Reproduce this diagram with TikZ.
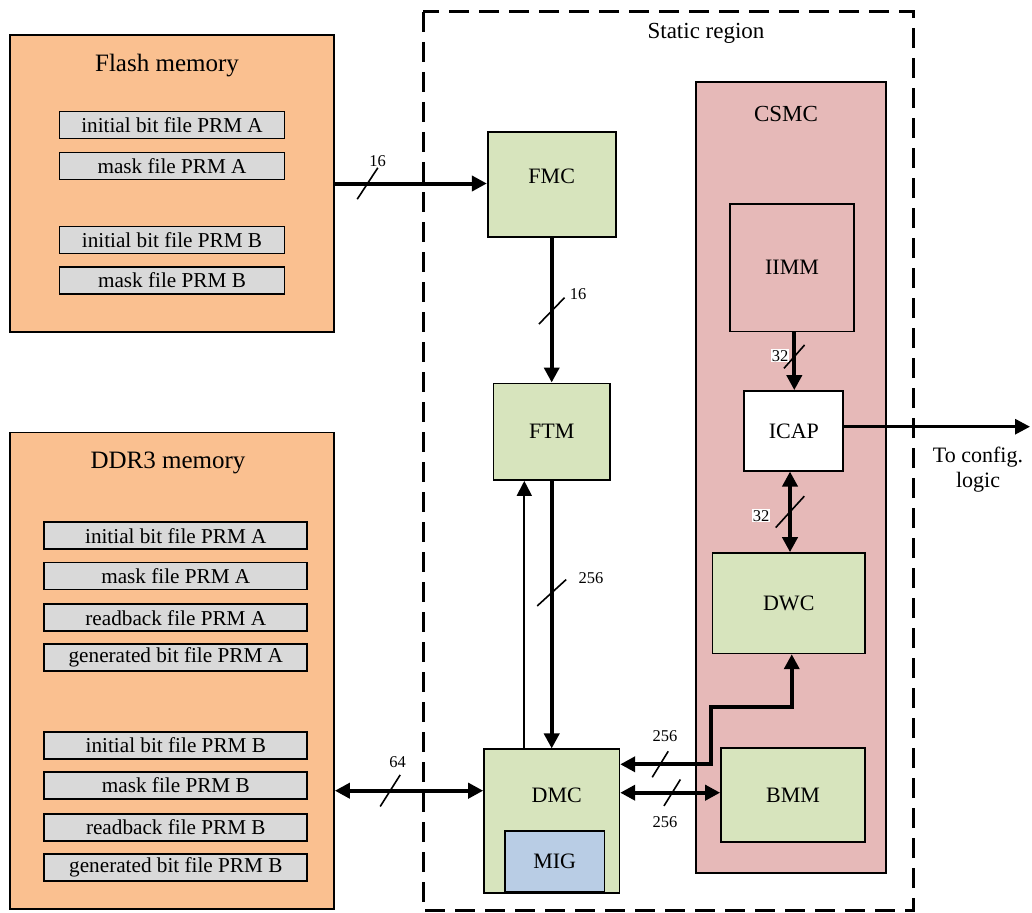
\documentclass[tikz,border=0pt]{standalone}
\usepackage{fontspec}
\setmainfont{Liberation Serif}
\usetikzlibrary{arrows.meta,calc}

\definecolor{memfill}{HTML}{FAC090}
\definecolor{filefill}{HTML}{D9D9D9}
\definecolor{blkfill}{HTML}{D7E4BD}
\definecolor{csmcfill}{HTML}{E6B9B8}
\definecolor{migfill}{HTML}{B9CDE5}

\tikzset{
  box/.style={draw=black, line width=1.7pt, inner sep=0pt, anchor=center},
  mem/.style={box, fill=memfill, minimum width=324pt},
  memtitle/.style={inner sep=0pt, font=\fontsize{25}{29}\selectfont},
  filebox/.style={box, fill=filefill, minimum height=27pt, font=\fontsize{21.2}{24}\selectfont},
  blk/.style={box, fill=blkfill, font=\fontsize{22}{26}\selectfont},
  txt/.style={inner sep=0pt, font=\fontsize{22}{26}\selectfont},
  bus/.style={line width=4pt},
  thin bus/.style={line width=1.8pt},
  tick/.style={line width=1.6pt},
  buslbl/.style={inner sep=1pt, font=\fontsize{16.5}{19}\selectfont},
  whitelbl/.style={buslbl, fill=white},
  region/.style={line width=3pt, dash pattern=on 20pt off 10pt},
  >={Triangle[length=15pt,width=15pt]}
}

% bus width mark: centre, half width, half height
\newcommand\busmark[3]{\draw[tick] ($(#1)+(-#2,#3)$) -- ($(#1)+(#2,-#3)$);}

\begin{document}
\begin{tikzpicture}[x=1pt,y=-1pt]
\useasboundingbox (0,0) rectangle (1032,912);

% ---------- Flash memory ----------
\node[mem, minimum height=297pt] (flash) at (172,183.5) {};
\node[memtitle] (flashttl) at (167,66) {Flash memory};
\node[filebox, minimum width=225pt] (fa1) at (172,125) {initial bit file PRM A};
\node[filebox, minimum width=225pt] (fa2) at (172,166) {mask file PRM A};
\node[filebox, minimum width=225pt] (fb1) at (172,240) {initial bit file PRM B};
\node[filebox, minimum width=225pt] (fb2) at (172,280.5) {mask file PRM B};

% ---------- DDR3 memory ----------
\node[mem, minimum height=476.5pt] (ddr) at (172,670.75) {};
\node[memtitle] (ddrttl) at (168,463) {DDR3 memory};
\node[filebox, minimum width=263pt] (da1) at (175.8,535.7) {initial bit file PRM A};
\node[filebox, minimum width=263pt] (da2) at (175.8,576) {mask file PRM A};
\node[filebox, minimum width=263pt] (da3) at (175.8,617.7) {readback file PRM A};
\node[filebox, minimum width=263pt] (da4) at (175.8,657.8) {generated bit file PRM A};
\node[filebox, minimum width=263pt] (db1) at (175.8,745.3) {initial bit file PRM B};
\node[filebox, minimum width=263pt] (db2) at (175.8,785.2) {mask file PRM B};
\node[filebox, minimum width=263pt] (db3) at (175.8,827.2) {readback file PRM B};
\node[filebox, minimum width=263pt] (db4) at (175.8,867.2) {generated bit file PRM B};

% ---------- Static region ----------
\draw[region] (423,12) rectangle (913,910);
\node[txt, font=\fontsize{23}{27}\selectfont] (statlbl) at (706,33) {Static region};

% ---------- CSMC ----------
\node[box, fill=csmcfill, minimum width=190pt, minimum height=791pt] (csmc) at (791,477.5) {};
\node[txt, font=\fontsize{23}{27}\selectfont] (csmclbl) at (786,114) {CSMC};
\node[box, fill=csmcfill, minimum width=124pt, minimum height=127.5pt, font=\fontsize{22}{26}\selectfont] (iimm) at (792,267.75) {IIMM};
\node[box, fill=white, minimum width=99pt, minimum height=79.7pt, font=\fontsize{22}{26}\selectfont] (icap) at (793.8,430.85) {ICAP};
\node[blk, minimum width=152.5pt, minimum height=100.3pt] (dwc) at (788.75,603.2) {DWC};
\node[blk, minimum width=144pt, minimum height=94pt] (bmm) at (793,795.2) {BMM};

% ---------- Static blocks ----------
\node[blk, minimum width=128pt, minimum height=105pt] (fmc) at (551.7,184.2) {};
\node[txt] (fmclbl) at (551.7,176) {FMC};
\node[blk, minimum width=116.7pt, minimum height=96.7pt] (ftm) at (551.7,431.7) {FTM};
\node[blk, minimum width=135.3pt, minimum height=144pt] (dmc) at (551.7,821.3) {};
\node[txt] (dmclbl) at (556.7,795.3) {DMC};
\node[box, fill=migfill, minimum width=99.3pt, minimum height=61pt, font=\fontsize{22}{26}\selectfont] (mig) at (554.7,861.2) {MIG};

% ---------- Connectors ----------
\coordinate (yddr) at (0,790.7);
\coordinate (bend) at (710.7,707.3);
\coordinate (tocfg) at (1030,426.7);

\draw[bus,->] (flash.east) -- coordinate[pos=0.215] (t1) (flash.east -| fmc.west);
\draw[bus,->] (fmc.south) -- coordinate[pos=0.506] (t2) (ftm.north);
\draw[bus,->] ([xshift=2.3pt]iimm.south) -- coordinate[pos=0.42] (t3) ([xshift=2.3pt]iimm.south |- icap.north);
\draw[bus,<->] ([xshift=-3.8pt]icap.south) -- coordinate[pos=0.5] (t4) ([xshift=-3.8pt]icap.south |- dwc.north);
\draw[line width=3pt,->] (icap.east |- tocfg) -- (tocfg);
\draw[bus,->] (ftm.south) -- coordinate[pos=0.418] (t5) (dmc.north);
\draw[thin bus,->] ([xshift=-27.4pt]dmc.north) -- ([xshift=-27.4pt]dmc.north |- ftm.south);
\draw[bus,<->] (ddr.east |- yddr) -- coordinate[pos=0.373] (t6) (dmc.west |- yddr);
\draw[bus,<->] ([yshift=57pt]dmc.east) -| coordinate[pos=0.221] (t7) (bend) -| ([xshift=3pt]dwc.south);
\draw[bus,<->] ([yshift=28.6pt]dmc.east) -- coordinate[pos=0.52] (t8) ([yshift=28.6pt]dmc.east -| bmm.west);

% ---------- Bus width marks ----------
\busmark{t1}{10.3}{15.7}
\busmark{t2}{12.8}{13.2}
\busmark{t3}{10.3}{11.7}
\busmark{t4}{14.3}{15.7}
\busmark{t5}{14.5}{13.2}
\busmark{t6}{10}{15.8}
\busmark{t7}{8}{13}
\busmark{t8}{8.2}{13.2}

\node[buslbl] (w1) at (377.7,161) {16};
\node[buslbl] (w2) at (578,294) {16};
\node[whitelbl] (w3) at (780,355.7) {32};
\node[whitelbl] (w4) at (761,515.7) {32};
\node[buslbl] (w5) at (591,578) {256};
\node[buslbl] (w6) at (397.7,761.7) {64};
\node[buslbl] (w7) at (665,736) {256};
\node[buslbl] (w8) at (665,821.7) {256};

\node[txt, align=center, font=\fontsize{22}{25}\selectfont] (cfglbl) at (978,470) {To config.\\logic};
\end{tikzpicture}
\end{document}
